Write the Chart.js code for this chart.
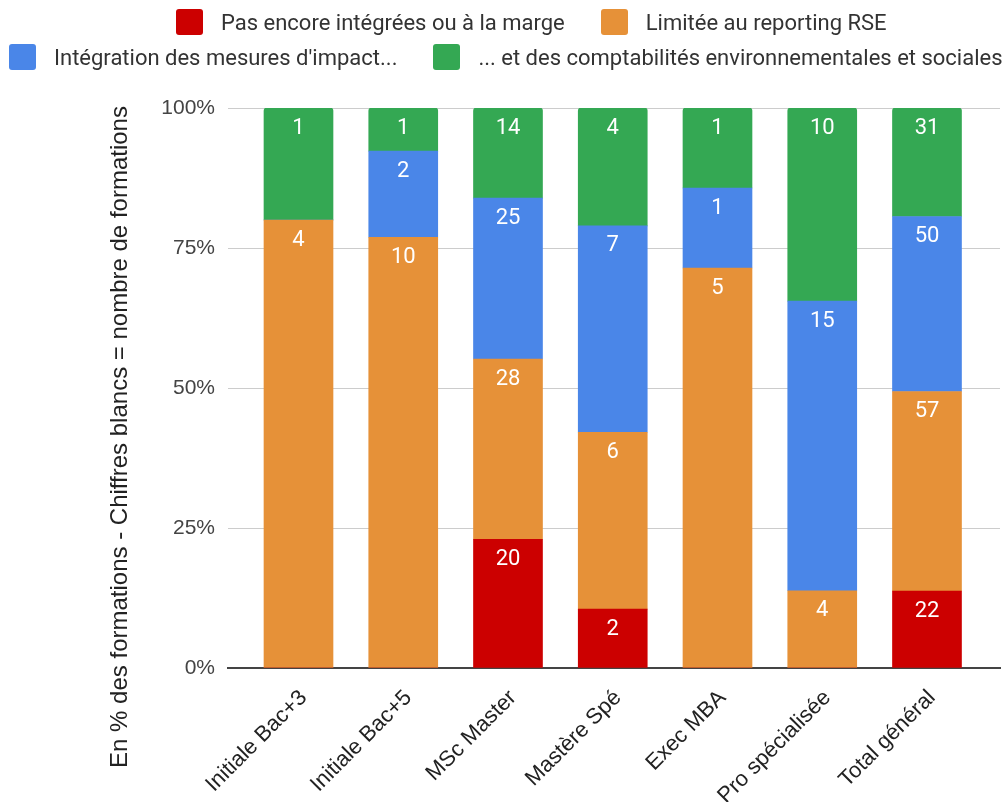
<!DOCTYPE html>
<html lang="fr">
<head>
<meta charset="utf-8">
<title>Intégration des comptabilités environnementales et sociales par type de formation</title>
<script src="https://cdn.jsdelivr.net/npm/chart.js@4/dist/chart.umd.min.js"></script>
<style>
  html, body { margin: 0; padding: 0; background: #ffffff; }
  #wrap { position: relative; width: 1005px; height: 802px; }
  #chart { position: absolute; left: 0; top: 0; }
  .legend-row { position: absolute; display: flex; align-items: center; height: 26px;
    font-family: Roboto, "Noto Sans", sans-serif; font-size: 22px; color: #333; white-space: nowrap; }
  .legend-item { display: flex; align-items: center; margin-right: 36px; }
  .legend-box { width: 27px; height: 26px; border-radius: 3px; margin-right: 18px; }
</style>
</head>
<body>
<div id="wrap">
  <canvas id="chart" width="1005" height="802"></canvas>
  <div id="legend-row-1" class="legend-row" style="left:176px; top:9px;"></div>
  <div id="legend-row-2" class="legend-row" style="left:9px; top:44px;"></div>
</div>
<script>
// Types de formation (axe horizontal)
const categories = ['Initiale Bac+3', 'Initiale Bac+5', 'MSc Master', 'Mastère Spé', 'Exec MBA', 'Pro spécialisée', 'Total général'];

// Nombre de formations par niveau d'intégration
const pasEncoreIntegrees = [0, 0, 20, 2, 0, 0, 22];
const limiteeReportingRSE = [4, 10, 28, 6, 5, 4, 57];
const mesuresImpact = [0, 2, 25, 7, 1, 15, 50];
const comptabilites = [1, 1, 14, 4, 1, 10, 31];

const seriesNames = [
  'Pas encore intégrées ou à la marge',
  'Limitée au reporting RSE',
  "Intégration des mesures d'impact...",
  '... et des comptabilités environnementales et sociales'
];
const seriesColors = ['#cc0000', '#e69138', '#4a86e8', '#34a853'];
const seriesCounts = [pasEncoreIntegrees, limiteeReportingRSE, mesuresImpact, comptabilites];

// Graduations de l'axe vertical (en %)
const yTicks = [0, 25, 50, 75, 100];
const yAxisTitle = 'En % des formations - Chiffres blancs = nombre de formations';

// Total par type de formation, pour passer en pourcentage
const totals = categories.map((_, i) => seriesCounts.reduce((s, arr) => s + arr[i], 0));

const datasets = seriesCounts.map((counts, k) => ({
  label: seriesNames[k],
  backgroundColor: seriesColors[k],
  borderWidth: 0,
  borderRadius: 3,
  barThickness: 69,
  counts: counts,
  data: counts.map((c, i) => ({ x: i, y: c / totals[i] * 100 }))
}));

// Chiffres blancs en haut de chaque segment
const countLabels = {
  id: 'countLabels',
  afterDatasetsDraw(chart) {
    const ctx = chart.ctx;
    ctx.save();
    ctx.fillStyle = '#ffffff';
    ctx.font = '22px Roboto, "Noto Sans", sans-serif';
    ctx.textAlign = 'center';
    ctx.textBaseline = 'middle';
    chart.data.datasets.forEach((ds, k) => {
      const meta = chart.getDatasetMeta(k);
      meta.data.forEach((bar, i) => {
        const c = ds.counts[i];
        if (c > 0) ctx.fillText(String(c), bar.x, bar.y + 20);
      });
    });
    ctx.restore();
  }
};

// Titre de l'axe vertical
const yTitle = {
  id: 'yTitle',
  afterDraw(chart) {
    const ctx = chart.ctx;
    ctx.save();
    ctx.translate(120, 437);
    ctx.rotate(-Math.PI / 2);
    ctx.fillStyle = '#222';
    ctx.font = '24px "Liberation Sans", Arial, sans-serif';
    ctx.textAlign = 'center';
    ctx.textBaseline = 'middle';
    ctx.fillText(yAxisTitle, 0, 0);
    ctx.restore();
  }
};

const chart = new Chart(document.getElementById('chart'), {
  type: 'bar',
  data: { datasets },
  plugins: [countLabels, yTitle],
  options: {
    responsive: false,
    animation: false,
    layout: { padding: { top: 108, right: 5, bottom: 0, left: 0 } },
    plugins: {
      legend: { display: false },
      tooltip: { enabled: false }
    },
    scales: {
      x: {
        type: 'linear',
        stacked: true,
        offset: false,
        min: -0.673,
        max: 6.697,
        afterBuildTicks(scale) { scale.ticks = categories.map((_, i) => ({ value: i })); },
        afterFit(scale) { scale.height = 134; },
        grid: { display: false, offset: false },
        border: { display: true, color: '#444', width: 2 },
        ticks: {
          autoSkip: false,
          minRotation: 45,
          maxRotation: 45,
          padding: 9,
          labelOffset: 5,
          color: '#222',
          font: { family: '"Liberation Sans", Arial, sans-serif', size: 22 },
          callback: (v) => categories[v]
        }
      },
      y: {
        stacked: true,
        min: 0,
        max: 100,
        afterBuildTicks(scale) { scale.ticks = yTicks.map(v => ({ value: v })); },
        afterFit(scale) { scale.width = 228; },
        border: { display: false },
        grid: {
          drawTicks: false,
          color: (c) => c.tick && c.tick.value === 0 ? 'rgba(0,0,0,0)' : '#cccccc',
          lineWidth: 1
        },
        ticks: {
          padding: 13,
          color: '#444',
          font: { family: '"Liberation Sans", Arial, sans-serif', size: 21 },
          callback: (v) => v + '%'
        }
      }
    }
  }
});

// Légende sur deux lignes
const rows = [document.getElementById('legend-row-1'), document.getElementById('legend-row-2')];
seriesNames.forEach((name, k) => {
  const item = document.createElement('div');
  item.className = 'legend-item';
  const box = document.createElement('span');
  box.className = 'legend-box';
  box.style.background = seriesColors[k];
  const text = document.createElement('span');
  text.textContent = name;
  item.appendChild(box);
  item.appendChild(text);
  rows[k < 2 ? 0 : 1].appendChild(item);
});
</script>
</body>
</html>
